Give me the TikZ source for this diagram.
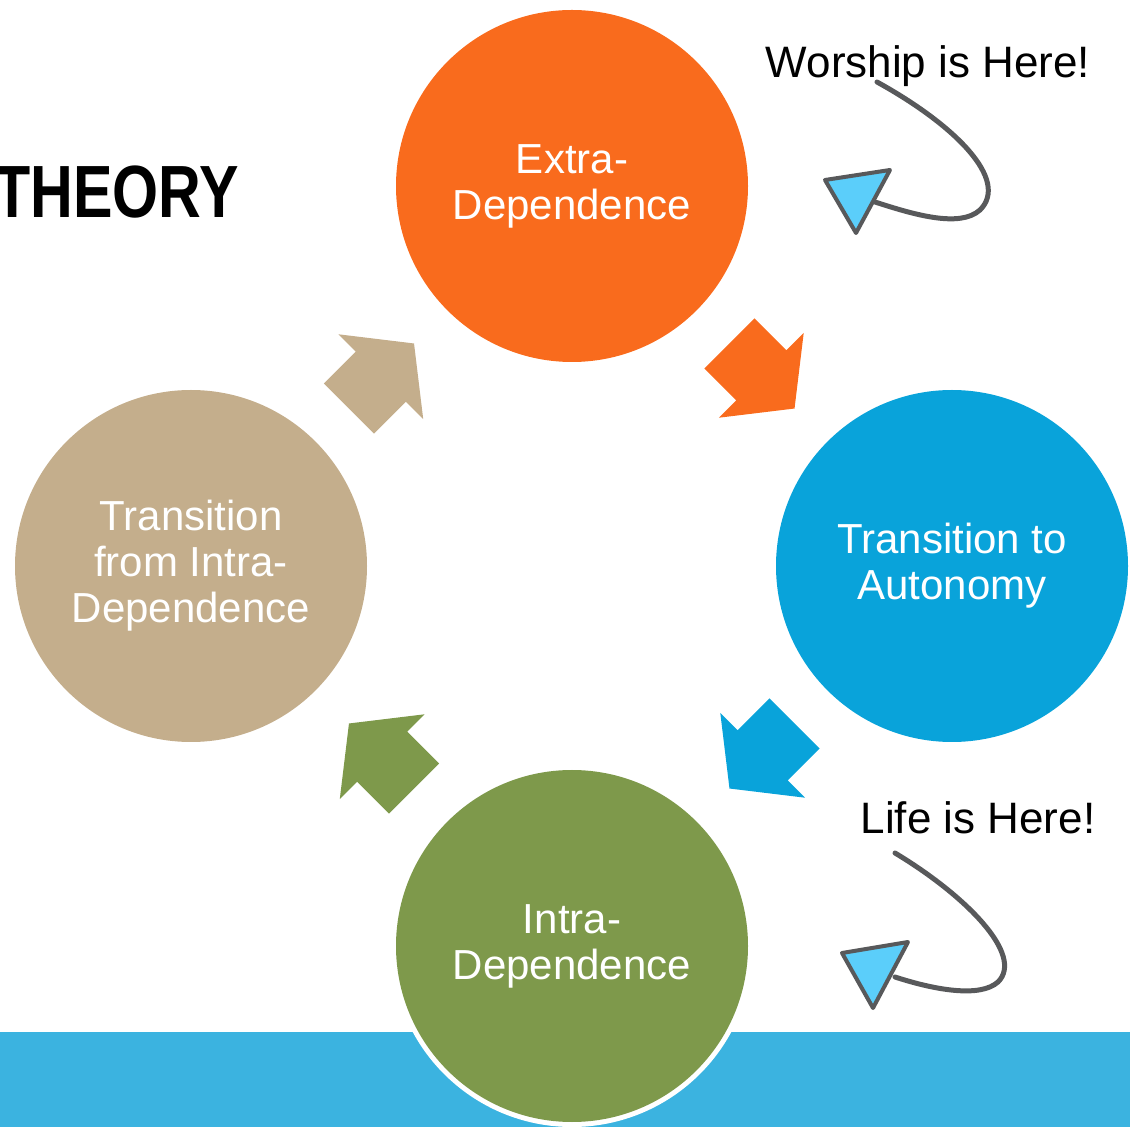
\documentclass[tikz,border=0pt]{standalone}
\usepackage{fontspec}
\setmainfont{Liberation Sans}
\usetikzlibrary{calc}
\definecolor{extraorange}{HTML}{F96B1D}
\definecolor{autoblue}{HTML}{09A3DA}
\definecolor{intragreen}{HTML}{7E994B}
\definecolor{transtan}{HTML}{C4AE8C}
\definecolor{bandblue}{HTML}{3BB3E0}
\definecolor{tipblue}{HTML}{5BCEFA}
\definecolor{curlgrey}{HTML}{58595B}
\tikzset{
  phase/.style={circle, minimum size=176pt, inner sep=0pt, text=white, align=center,
    font=\fontsize{21}{23}\selectfont},
  note/.style={anchor=base, font=\fontsize{22}{26}\selectfont},
  curl/.style={draw=curlgrey, line width=2.5pt, line cap=round},
  pointer/.style={fill=tipblue, draw=curlgrey, line width=2pt, line join=round}
}
\begin{document}
\begin{tikzpicture}[x=0.5pt,y=-0.5pt]
\useasboundingbox (0,0) rectangle (1130,1127);
\clip (0,0) rectangle (1130,1127);
\fill[bandblue] (0,1032) rectangle (1130,1127); % bottom band

\node[anchor=base east, font=\fontsize{37}{40}\selectfont\bfseries] (title) at (246,218) {\scalebox{0.8}[1]{THEORY}};

\node[phase, fill=extraorange] (extra) at (572,186) {Extra-\\Dependence};
\node[phase, fill=autoblue] (auto) at (952,566) {Transition to\\Autonomy};
\node[phase, fill=intragreen, preaction={draw=white, line width=5pt}] (intra) at (572,946) {Intra-\\Dependence};
\node[phase, fill=transtan] (trans) at (191,566) {Transition\\from Intra-\\Dependence};

\foreach \a/\b/\ang/\col in {extra/auto/-45/extraorange, auto/intra/-135/autoblue,
  intra/trans/135/intragreen, trans/extra/45/transtan} % block arrows of the cycle
\fill[\col, shift={($(\a)!0.5!(\b)$)}, rotate=\ang]
  (-46,-35.5) -- (-1,-35.5) -- (-1,-60) -- (46,0) -- (-1,60) -- (-1,35.5) -- (-46,35.5) -- cycle;

\node[note] (worship) at (928,78) {Worship is Here!};
\coordinate (worshiptail) at (877,82);
\coordinate (worshiphead) at (875,202);
\draw[curl] (worshiptail) .. controls (955,125) and (1010,180) .. (980,210)
  .. controls (960,228) and (915,215) .. (worshiphead);
\draw[pointer] (825,180) -- (890,170) -- (856,233) -- cycle;

\node[note] (life) at (978,834) {Life is Here!};
\coordinate (lifetail) at (895,853);
\coordinate (lifehead) at (895,977);
\draw[curl] (lifetail) .. controls (965,895) and (1025,955) .. (998,982)
  .. controls (980,998) and (935,990) .. (lifehead);
\draw[pointer] (842,953) -- (908,942) -- (873,1008) -- cycle;
\end{tikzpicture}
\end{document}
